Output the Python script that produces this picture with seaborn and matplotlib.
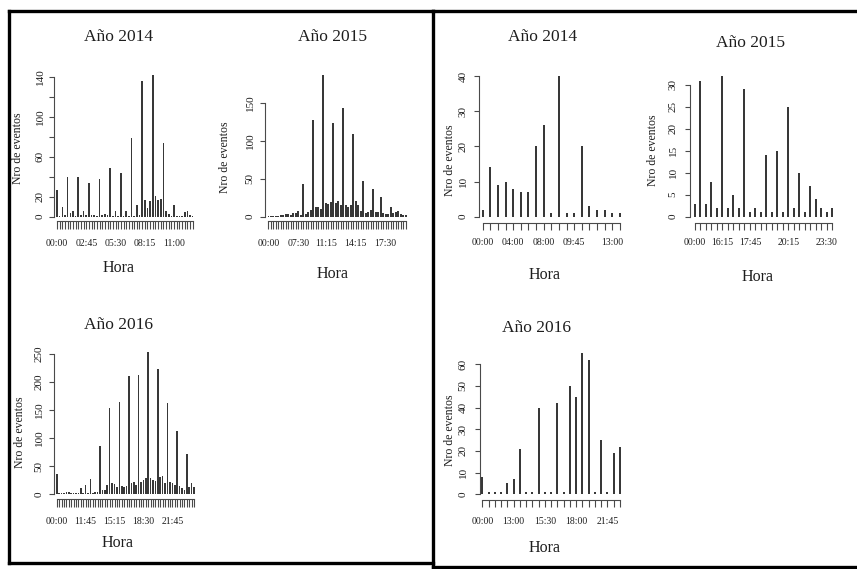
import matplotlib
matplotlib.use("Agg")
import matplotlib.pyplot as plt
import seaborn as sns
import pandas as pd

# ---------------- data: number of events per time slot ----------------
# Left block
left14_counts = [27, 1, 10, 2, 40, 4, 6, 1, 40, 2, 6, 2, 34, 2, 2, 1, 38, 2, 3, 2,
                 49, 1, 6, 1, 44, 1, 6, 1, 79, 1, 12, 2, 136, 17, 9, 16, 142, 21, 17, 18,
                 74, 6, 3, 1, 12, 1, 1, 1, 5, 6, 2, 1]
left14_labels = ["00:00", "02:45", "05:30", "08:15", "11:00"]
left14_label_idx = [0, 11, 22, 33, 44]
left14_yticks = [0, 20, 40, 60, 80, 100, 120, 140]
left14_ylabels = [0, 20, 60, 100, 140]

left15_counts = [1, 1, 1, 1, 1, 2, 2, 3, 3, 2, 4, 5, 7, 2, 43, 3, 6, 8, 127, 13,
                 12, 10, 187, 18, 17, 19, 123, 18, 20, 15, 143, 15, 12, 15, 109, 20, 15, 7, 47, 4,
                 6, 9, 36, 6, 6, 26, 4, 3, 3, 12, 4, 6, 7, 3, 2, 2]
left15_labels = ["00:00", "07:30", "11:15", "14:15", "17:30"]
left15_label_idx = [0, 12, 23, 35, 47]
left15_yticks = [0, 50, 100, 150]
left15_ylabels = [0, 50, 100, 150]

left16_counts = [36, 1, 1, 1, 4, 3, 1, 1, 1, 1, 10, 1, 16, 1, 27, 1, 4, 3, 86, 8,
                 8, 16, 154, 20, 17, 13, 165, 14, 13, 14, 211, 19, 22, 16, 213, 22, 25, 28, 254, 28,
                 25, 24, 224, 31, 32, 19, 163, 21, 19, 16, 112, 15, 10, 7, 71, 13, 19, 12]
left16_labels = ["00:00", "11:45", "15:15", "18:30", "21:45"]
left16_label_idx = [0, 12, 24, 36, 48]
left16_yticks = [0, 50, 100, 150, 200, 250]
left16_ylabels = [0, 50, 100, 150, 200, 250]

# Right block
right14_counts = [2, 14, 9, 10, 8, 7, 7, 20, 26, 1, 40, 1, 1, 20, 3, 2, 2, 1, 1]
right14_labels = ["00:00", "04:00", "08:00", "09:45", "13:00"]
right14_label_idx = [0, 4, 8, 12, 17]
right14_yticks = [0, 10, 20, 30, 40]
right14_ylabels = [0, 10, 20, 30, 40]

right15_counts = [3, 31, 3, 8, 2, 32, 2, 5, 2, 29, 1, 2, 1, 14, 1, 15, 1, 25, 2, 10,
                  1, 7, 4, 2, 1, 2]
right15_labels = ["00:00", "16:15", "17:45", "20:15", "23:30"]
right15_label_idx = [0, 5, 10, 17, 24]
right15_yticks = [0, 5, 10, 15, 20, 25, 30]
right15_ylabels = [0, 5, 10, 15, 20, 25, 30]

right16_counts = [8, 1, 1, 1, 5, 7, 21, 1, 1, 40, 1, 1, 42, 1, 50, 45, 65, 62, 1, 25,
                  1, 19, 22]
right16_labels = ["00:00", "13:00", "15:30", "18:00", "21:45"]
right16_label_idx = [0, 5, 10, 15, 20]
right16_yticks = [0, 10, 20, 30, 40, 50, 60]
right16_ylabels = [0, 10, 20, 30, 40, 50, 60]

# ---------------- figure setup ----------------
W, H = 857, 569
DPI = 100
PT = 72.0 / DPI          # points per pixel

sns.set_style("white")
plt.rcParams['font.family'] = ['Liberation Serif', 'DejaVu Serif']

INK = '#1e1e1e'
AXC = '#4a4a4a'
BAR = '#383838'

fig = plt.figure(figsize=(W / DPI, H / DPI), dpi=DPI)
fig.patch.set_facecolor('white')


def panel(counts, labels, label_idx, yticks, ylabels, title, g):
    """Draw one R-style frequency plot; g holds the pixel layout."""
    n = len(counts)
    x0, x1, y0, y1 = g['x0'], g['x1'], g['y0'], g['y1']
    ax = fig.add_axes([x0 / W, 1 - y0 / H, (x1 - x0) / W, (y0 - y1) / H])
    ax.patch.set_alpha(0)

    df = pd.DataFrame({'slot': list(range(n)), 'eventos': counts})
    step = (x1 - x0) / (n - 1)
    sns.barplot(data=df, x='slot', y='eventos', ax=ax, color=BAR, saturation=1,
                width=g['bar_px'] / step, linewidth=0, errorbar=None)
    for p in ax.patches:
        p.set_clip_on(False)

    ax.set_xlim(0, n - 1)
    ax.set_ylim(0, yticks[-1])
    ax.set_xlabel('')
    ax.set_ylabel('')

    for s in ('top', 'right'):
        ax.spines[s].set_visible(False)
    for s in ('left', 'bottom'):
        ax.spines[s].set_color(AXC)
        ax.spines[s].set_linewidth(0.8)
    ax.spines['left'].set_position(('outward', (x0 - g['yaxis_x']) * PT))
    ax.spines['left'].set_bounds(0, yticks[-1])
    ax.spines['bottom'].set_position(('outward', (g['xaxis_y'] - y0) * PT))
    ax.spines['bottom'].set_bounds(0, n - 1)

    ax.set_xticks(range(n))
    ax.set_yticks(yticks)
    ax.tick_params(axis='x', bottom=True, length=g['xtick_px'] * PT, width=0.8,
                   color=AXC, labelbottom=False)
    ax.tick_params(axis='y', left=True, length=5 * PT, width=0.8,
                   color=AXC, labelleft=False)

    # category labels under the axis
    yfrac = (y0 - g['xlab_y']) / (y0 - y1)
    for i, lab in zip(label_idx, labels):
        ax.text(i, yfrac, lab, transform=ax.get_xaxis_transform(), ha='center',
                va='center', fontsize=7, color=INK, clip_on=False)

    # value labels along the y axis, written vertically
    xfrac = (g['ylab_x'] - x0) / (x1 - x0)
    for v in ylabels:
        ax.text(xfrac, v, str(v), transform=ax.get_yaxis_transform(), rotation=90,
                ha='center', va='center', fontsize=8, color=INK, clip_on=False)

    fig.text(g['title'][0] / W, 1 - g['title'][1] / H, title, ha='center',
             va='center', fontsize=12.5, color=INK)
    fig.text(g['hora'][0] / W, 1 - g['hora'][1] / H, 'Hora', ha='center',
             va='center', fontsize=11.5, color=INK)
    fig.text(g['ylab'][0] / W, 1 - g['ylab'][1] / H, 'Nro de eventos', ha='center',
             va='center', rotation=90, fontsize=8.5, color=INK)
    return ax


layout_l14 = dict(x0=57, x1=192.7, y0=216.5, y1=76.5, yaxis_x=54, xaxis_y=220.5,
                  xlab_y=243, ylab_x=40, title=(119, 37), hora=(119, 268),
                  ylab=(18, 148), bar_px=1.6, xtick_px=8)
layout_l15 = dict(x0=268.3, x1=405.7, y0=216.5, y1=103, yaxis_x=264.5, xaxis_y=220.5,
                  xlab_y=243, ylab_x=250, title=(332, 37), hora=(333, 274),
                  ylab=(225, 157), bar_px=1.6, xtick_px=8)
layout_l16 = dict(x0=56.7, x1=194, y0=494, y1=354, yaxis_x=53.5, xaxis_y=498.5,
                  xlab_y=521.7, ylab_x=39, title=(118, 325), hora=(118, 543),
                  ylab=(20, 432), bar_px=1.6, xtick_px=8)
layout_r14 = dict(x0=482.7, x1=620, y0=216.7, y1=76, yaxis_x=479.3, xaxis_y=222.7,
                  xlab_y=242.3, ylab_x=463, title=(543, 37), hora=(545, 275),
                  ylab=(450, 160), bar_px=2.0, xtick_px=7)
layout_r15 = dict(x0=695, x1=832.3, y0=216.7, y1=85, yaxis_x=690, xaxis_y=222.7,
                  xlab_y=242.3, ylab_x=673, title=(750, 43), hora=(758, 277),
                  ylab=(653, 150), bar_px=2.0, xtick_px=7)
layout_r16 = dict(x0=482.3, x1=620, y0=494.3, y1=364.3, yaxis_x=480, xaxis_y=500,
                  xlab_y=521.7, ylab_x=463, title=(536, 328), hora=(545, 548),
                  ylab=(450, 430), bar_px=2.0, xtick_px=7)

panel(left14_counts, left14_labels, left14_label_idx, left14_yticks, left14_ylabels,
      'Año 2014', layout_l14)
panel(left15_counts, left15_labels, left15_label_idx, left15_yticks, left15_ylabels,
      'Año 2015', layout_l15)
panel(left16_counts, left16_labels, left16_label_idx, left16_yticks, left16_ylabels,
      'Año 2016', layout_l16)
panel(right14_counts, right14_labels, right14_label_idx, right14_yticks, right14_ylabels,
      'Año 2014', layout_r14)
panel(right15_counts, right15_labels, right15_label_idx, right15_yticks, right15_ylabels,
      'Año 2015', layout_r15)
panel(right16_counts, right16_labels, right16_label_idx, right16_yticks, right16_ylabels,
      'Año 2016', layout_r16)

# frames around the two blocks, in pixel coordinates
frame = fig.add_axes([0, 0, 1, 1])
frame.set_xlim(0, W)
frame.set_ylim(H, 0)
frame.axis('off')
frame.patch.set_alpha(0)
kw = dict(color='black', linewidth=2.4, solid_capstyle='projecting')
frame.plot([9, 433], [11, 11], **kw)
frame.plot([9, 9], [11, 563], **kw)
frame.plot([9, 433], [563, 563], **kw)
frame.plot([433, 433], [11, 567], **kw)
frame.plot([433, 857], [11, 11], **kw)
frame.plot([433, 857], [567, 567], **kw)

fig.savefig('out.png', dpi=DPI, facecolor='white')
